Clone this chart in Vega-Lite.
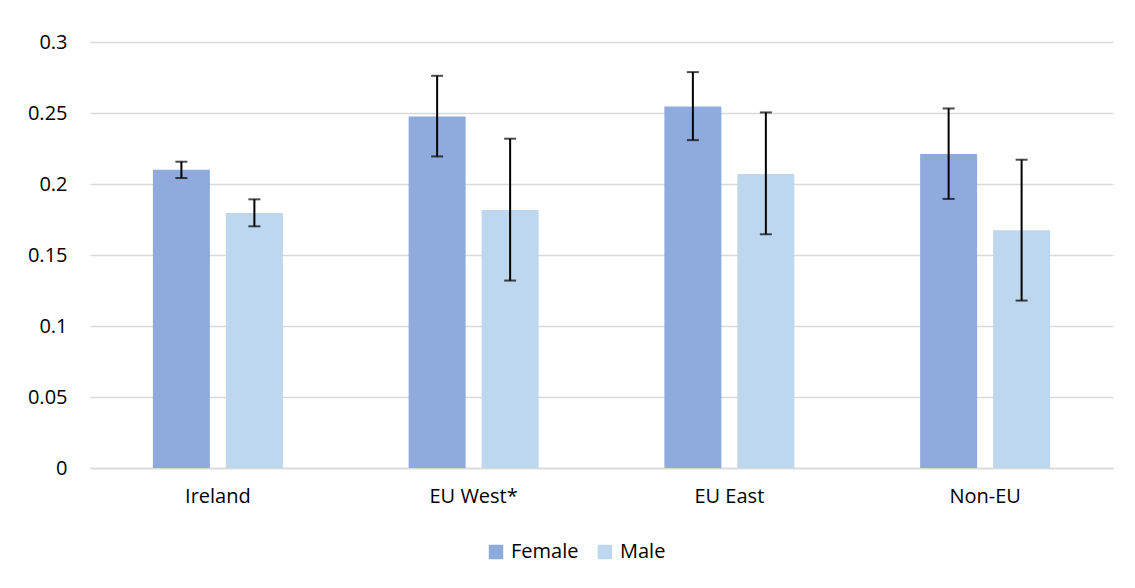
{
  "$schema": "https://vega.github.io/schema/vega-lite/v6.json",
  "width": 1023,
  "height": 426,
  "autosize": {"type": "none"},
  "padding": {"left": 90, "top": 42, "right": 22, "bottom": 120},
  "background": "white",
  "config": {"view": {"stroke": null}},
  "data": {
    "values": [
      {"region": "Ireland", "sex": "Female", "value": 0.210, "lo": 0.2042, "hi": 0.2157},
      {"region": "Ireland", "sex": "Male", "value": 0.1796, "lo": 0.1702, "hi": 0.1892},
      {"region": "EU West*", "sex": "Female", "value": 0.2475, "lo": 0.2194, "hi": 0.2762},
      {"region": "EU West*", "sex": "Male", "value": 0.1817, "lo": 0.132, "hi": 0.2319},
      {"region": "EU East", "sex": "Female", "value": 0.2546, "lo": 0.2309, "hi": 0.2788},
      {"region": "EU East", "sex": "Male", "value": 0.207, "lo": 0.1646, "hi": 0.2504},
      {"region": "Non-EU", "sex": "Female", "value": 0.2211, "lo": 0.1895, "hi": 0.2532},
      {"region": "Non-EU", "sex": "Male", "value": 0.1674, "lo": 0.1179, "hi": 0.2171}
    ]
  },
  "encoding": {
    "x": {
      "field": "region",
      "type": "nominal",
      "sort": ["Ireland", "EU West*", "EU East", "Non-EU"],
      "scale": {"paddingInner": 0.4917, "paddingOuter": 0.2459},
      "axis": {
        "title": null,
        "labelAngle": 0,
        "ticks": false,
        "domain": true,
        "domainColor": "#d9d9d9",
        "domainWidth": 1.5,
        "labelFont": "Open Sans",
        "labelFontSize": 20,
        "labelColor": "#000000",
        "labelPadding": 18
      }
    },
    "xOffset": {
      "field": "sex",
      "type": "nominal",
      "sort": ["Female", "Male"],
      "scale": {"paddingInner": 0.219, "paddingOuter": 0}
    }
  },
  "layer": [
    {
      "mark": {"type": "bar"},
      "encoding": {
        "y": {
          "field": "value",
          "type": "quantitative",
          "scale": {"domain": [0, 0.3], "nice": false},
          "axis": {
            "title": null,
            "values": [0, 0.05, 0.1, 0.15, 0.2, 0.25, 0.3],
            "labelExpr": "format(datum.value, '~g')",
            "domain": false,
            "ticks": false,
            "grid": true,
            "gridColor": "#d9d9d9",
            "gridWidth": 1.5,
            "labelFont": "Open Sans",
            "labelFontSize": 20,
            "labelColor": "#000000",
            "labelPadding": 23
          }
        },
        "color": {
          "field": "sex",
          "type": "nominal",
          "sort": ["Female", "Male"],
          "scale": {"domain": ["Female", "Male"], "range": ["#8FAADC", "#BDD7EE"]},
          "legend": {
            "title": null,
            "orient": "none",
            "direction": "horizontal",
            "legendX": 396,
            "legendY": 500,
            "symbolType": "square",
            "symbolSize": 210,
            "symbolStrokeWidth": 0,
            "symbolOpacity": 1,
            "labelFont": "Open Sans",
            "labelFontSize": 20,
            "labelColor": "#000000",
            "labelOffset": 5,
            "columnPadding": 16
          }
        }
      }
    },
    {
      "mark": {"type": "rule", "color": "black", "strokeWidth": 2},
      "encoding": {
        "y": {"field": "lo", "type": "quantitative"},
        "y2": {"field": "hi"}
      }
    },
    {
      "mark": {"type": "tick", "color": "black", "thickness": 2, "size": 12},
      "encoding": {
        "y": {"field": "hi", "type": "quantitative"}
      }
    },
    {
      "mark": {"type": "tick", "color": "black", "thickness": 2, "size": 12},
      "encoding": {
        "y": {"field": "lo", "type": "quantitative"}
      }
    }
  ]
}
